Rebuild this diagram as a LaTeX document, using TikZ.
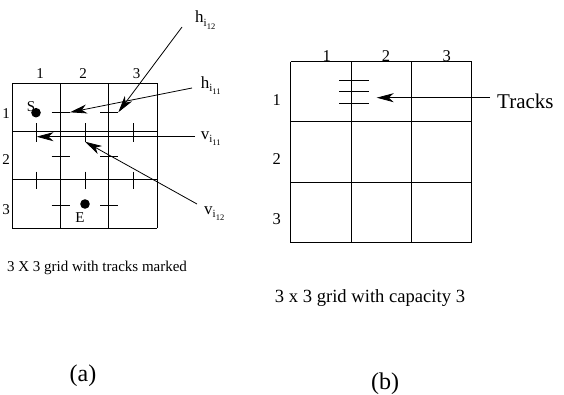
\documentclass[tikz,border=0pt]{standalone}
\usepackage{fontspec}
\setmainfont{Liberation Serif}
\usetikzlibrary{arrows.meta}
\newcommand{\trklbl}[3]{#1\raisebox{-3.5pt}{\fontsize{11}{11}\selectfont #2\raisebox{-3pt}{\fontsize{8.5}{8.5}\selectfont #3}}}
\begin{document}
\begin{tikzpicture}[x=1pt,y=-1pt,
  gridline/.style={line width=1pt},
  track/.style={line width=0.9pt},
  ptr/.style={line width=0.8pt,-{Stealth[length=17pt,width=9pt,inset=5pt]}},
  numa/.style={font=\fontsize{15}{15}\selectfont, inner sep=0pt},
  numb/.style={font=\fontsize{16.5}{16.5}\selectfont, inner sep=0pt},
  lbl/.style={font=\fontsize{17}{17}\selectfont, inner sep=0pt, anchor=base west},
  dot/.style={circle, fill=black, inner sep=0pt, minimum size=9.6pt},
  captext/.style={inner sep=0pt, anchor=base}
]
\useasboundingbox (0,0) rectangle (564,395);

% ---------- grid (a)
\foreach \i in {0,1,2,3} {
  \draw[gridline] ({12.3+48.33*\i},83.3) -- ({12.3+48.33*\i},228.3);
  \draw[gridline] (12.3,{83.3+48.33*\i}) -- (157.3,{83.3+48.33*\i});
}
\node[numa] (ac1) at (40,74) {1};
\node[numa] (ac2) at (83,74) {2};
\node[numa] (ac3) at (136.7,74) {3};
\node[numa] (ar1) at (6,114) {1};
\node[numa] (ar2) at (6,160) {2};
\node[numa] (ar3) at (6,210) {3};

% horizontal tracks
\foreach \y in {112.3,156,205} {
  \draw[track] (51.7,\y) -- (70,\y);
  \draw[track] (100,\y) -- (118.3,\y);
}
% vertical tracks
\foreach \x in {36,85,133.3} {
  \draw[track] (\x,123.3) -- (\x,141.7);
  \draw[track] (\x,171.7) -- (\x,189.3);
}

\node[dot] (sdot) at (36,112.7) {};
\node[numa] (S) at (31,106.5) {S};
\node[dot] (edot) at (85,204) {};
\node[numa] (E) at (80,218) {E};

% labels
\node[lbl] (h12) at (195,22.7) {\trklbl{h}{i}{12}};
\node[lbl] (h11) at (200.7,88.3) {\trklbl{h}{i}{11}};
\node[lbl] (v11) at (200.7,139.3) {\trklbl{v}{i}{11}};
\node[lbl] (v12) at (204,214.3) {\trklbl{v}{i}{12}};

\coordinate (h12s) at (182,27);
\coordinate (h12t) at (118.3,112.3);
\coordinate (h11s) at (192,88);
\coordinate (h11t) at (70,112.3);
\coordinate (v11s) at (195,136.7);
\coordinate (v11t) at (36.5,136.7);
\coordinate (v12s) at (197,204);
\coordinate (v12t) at (85,141.7);
\draw[ptr] (h12s) -- (h12t);
\draw[ptr] (h11s) -- (h11t);
\draw[ptr] (v11s) -- (v11t);
\draw[ptr] (v12s) -- (v12t);

\node[captext, font=\fontsize{15}{15}\selectfont] (capa) at (97,271) {3 X 3 grid with tracks marked};
\node[captext, font=\fontsize{24}{24}\selectfont] (la) at (83,381) {(a)};

% ---------- grid (b)
\foreach \i in {0,1,2,3} {
  \draw[gridline] ({290.7+60.4*\i},61.7) -- ({290.7+60.4*\i},242.5);
  \draw[gridline] (290.7,{61.7+60.27*\i}) -- (471.9,{61.7+60.27*\i});
}
\node[numb] (bc1) at (326.7,56) {1};
\node[numb] (bc2) at (386,56) {2};
\node[numb] (bc3) at (446.7,56) {3};
\node[numb] (br1) at (276.7,100) {1};
\node[numb] (br2) at (276.7,158.7) {2};
\node[numb] (br3) at (276.7,219) {3};

\foreach \y in {80,91.7,103.3} {
  \draw[track] (339.3,\y) -- (369.3,\y);
}
\node[inner sep=0pt, anchor=base west, font=\fontsize{21}{21}\selectfont] (tracks) at (497,108.3) {Tracks};
\coordinate (trs) at (490,97.7);
\coordinate (trt) at (376.7,97.7);
\draw[ptr] (trs) -- (trt);

\node[captext, font=\fontsize{18.6}{18.6}\selectfont] (capb) at (370,302.5) {3 x 3 grid with capacity 3};
\node[captext, font=\fontsize{24}{24}\selectfont] (lb) at (385,389) {(b)};
\end{tikzpicture}
\end{document}
